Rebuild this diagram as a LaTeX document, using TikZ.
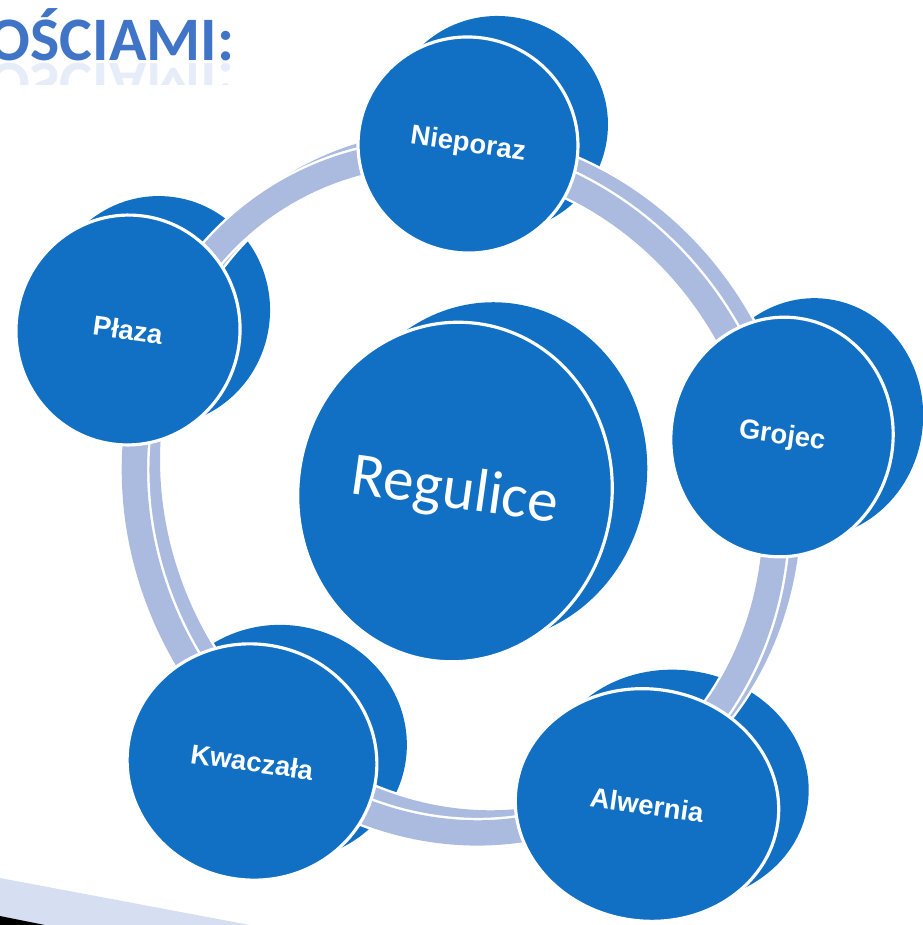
\documentclass[tikz,border=0pt]{standalone}
\usepackage{fontspec}
\setmainfont{Liberation Sans}
\newfontfamily\headfont{Carlito}
\usetikzlibrary{shapes.geometric}

\definecolor{diskblue}{HTML}{1170C4}
\definecolor{ringblue}{HTML}{ABBADF}
\definecolor{headblue}{HTML}{3F74C6}
\definecolor{wedgeblue}{HTML}{D6DFF1}

\begin{document}
\begin{tikzpicture}[x=0.1mm, y=-0.1mm,
            disk/.style = {ellipse, fill=diskblue, inner sep=0pt, rotate=-8},
            face/.style = {disk, draw=white, line width=0.9pt, text=white},
            town/.style = {face, font=\bfseries\fontsize{7.8}{9}\selectfont},
            band/.style = {draw=white, line width=8.6pt,
                           postaction={draw=ringblue, line width=7.2pt}},
            ]
            \useasboundingbox (0,0) rectangle (922,925);

            % heading, cut at the left edge, with its reflection
            \node[anchor=base west, inner sep=0pt, text=headblue,
                  font=\headfont\bfseries\fontsize{17.6}{20}\selectfont] (heading) at (-12,60) {OŚCIAMI:};
            \begin{scope}
                \clip (0,61) rectangle (300,84);
                \node[anchor=base west, inner sep=0pt, text=headblue, opacity=0.13,
                      yscale=-1, transform shape,
                      font=\headfont\bfseries\fontsize{17.6}{20}\selectfont] (mirror) at (-12,63) {OŚCIAMI:};
            \end{scope}

            % back sides of the outer disks
            \node[disk, minimum width=22.4mm, minimum height=23mm]   (plazaback)    at (158,311) {};
            \node[disk, minimum width=22mm,   minimum height=21.6mm] (nieporazback) at (498,124) {};
            \node[disk, minimum width=22.2mm, minimum height=24mm]   (grojecback)   at (812,418) {};
            \node[disk, minimum width=26.4mm, minimum height=23.2mm] (alwerniaback) at (677,786) {};
            \node[disk, minimum width=25mm,   minimum height=23.6mm] (kwaczalaback) at (282,743) {};

            % the ring: back edge, then front band
            \draw[band] (468,483) ellipse [x radius=345, y radius=315, rotate=-65];
            \draw[band] (455,493) ellipse [x radius=345, y radius=315, rotate=-65];

            % front faces
            \node[town, minimum width=22.4mm, minimum height=23mm]   (plaza)    at (128,330) {Płaza};
            \node[town, minimum width=22mm,   minimum height=21.6mm] (nieporaz) at (468,145) {Nieporaz};
            \node[town, minimum width=22.2mm, minimum height=24mm]   (grojec)   at (782,437) {Grojec};
            \node[town, minimum width=26.4mm, minimum height=23.2mm] (alwernia) at (647,805) {Alwernia};
            \node[town, minimum width=25mm,   minimum height=23.6mm] (kwaczala) at (252,762) {Kwaczała};

            % centre disk
            \node[disk, minimum width=31.4mm, minimum height=34mm] (reguliceback) at (490,472) {};
            \node[face, minimum width=31.4mm, minimum height=34mm,
                  font=\headfont\fontsize{17.4}{20}\selectfont] (regulice) at (455,492) {Regulice};

            % corner of the slide
            \fill[wedgeblue] (0,878) -- (250,925) -- (0,925) -- cycle;
            \fill[black] (0,916) -- (45,925) -- (0,925) -- cycle;
        \end{tikzpicture}
\end{document}
